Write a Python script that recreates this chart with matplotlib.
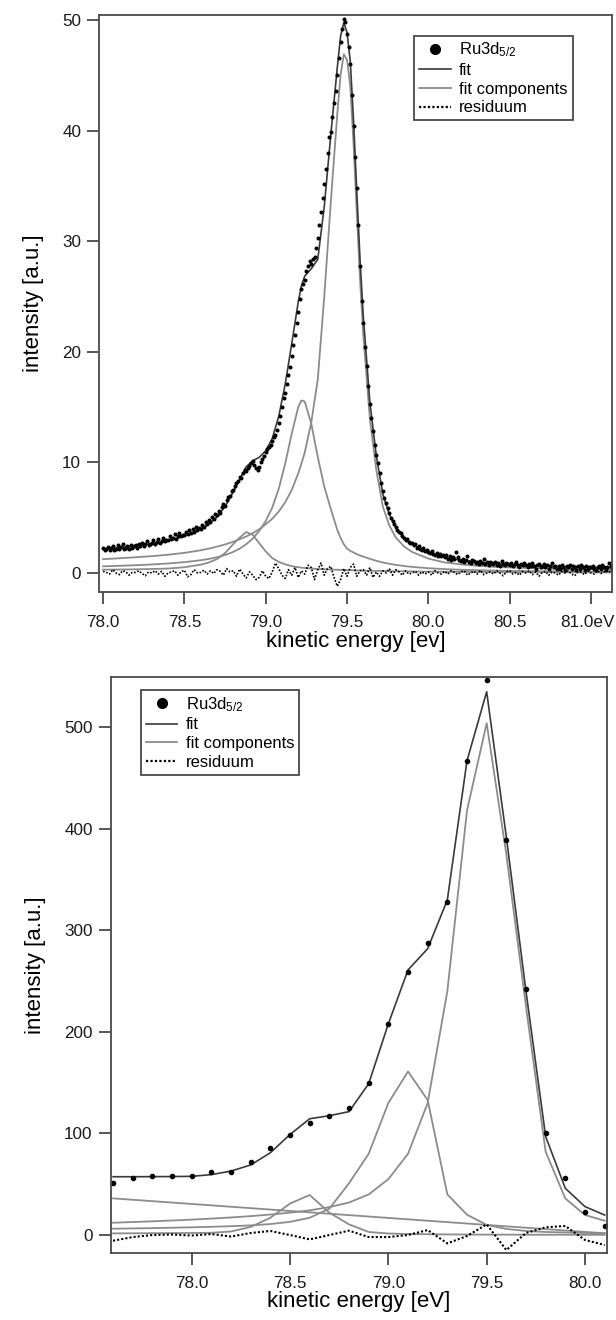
import numpy as np
import matplotlib
matplotlib.use("Agg")
import matplotlib.pyplot as plt
from matplotlib.lines import Line2D
from matplotlib.transforms import ScaledTranslation

plt.rcParams['font.family'] = ['Liberation Sans', 'DejaVu Sans']
plt.rcParams['mathtext.fontset'] = 'custom'
plt.rcParams['mathtext.rm'] = 'Liberation Sans'
plt.rcParams['mathtext.it'] = 'Liberation Sans:italic'

# ---------------- top panel data ----------------
top_start = 78.0
top_step = 0.01
top_data = [
    2.3, 2.1, 2.2, 2.35, 2.05, 2.25, 2.4, 2.1, 2.2, 2.5,
    2.2, 2.35, 2.6, 2.15, 2.3, 2.45, 2.2, 2.55, 2.3, 2.4,
    2.5, 2.3, 2.65, 2.45, 2.7, 2.4, 2.6, 2.85, 2.5, 2.65,
    2.7, 2.95, 2.6, 2.8, 3.05, 2.75, 2.9, 3.2, 2.85, 3.0,
    2.95, 3.3, 3.05, 3.2, 3.5, 3.1, 3.35, 3.6, 3.3, 3.45,
    3.4, 3.7, 3.5, 3.85, 3.6, 4.0, 3.75, 4.2, 3.9, 4.1,
    4.0, 4.35, 4.2, 4.6, 4.45, 4.8, 4.6, 5.1, 4.9, 5.3,
    5.2, 5.6, 5.45, 6.0, 6.2, 6.1, 6.6, 6.9, 7.0, 7.4,
    7.5, 7.9, 8.1, 8.3, 8.7, 8.6, 9.0, 9.3, 9.2, 9.5,
    9.7, 9.9, 10.1, 9.8, 9.5, 9.3, 9.6, 10.0, 10.3, 10.6,
    10.9, 11.2, 11.4, 11.6, 11.9, 12.3, 12.5, 12.9, 13.6, 14.2,
    15.0, 15.8, 16.3, 17.1, 17.9, 18.6, 19.6, 20.6, 21.5, 22.6,
    23.6, 24.8, 25.7, 26.1, 26.5, 27.3, 27.8, 28.2, 27.9, 28.4,
    28.6, 29.4, 30.3, 31.5, 32.6, 33.9, 35.2, 36.5, 38.0, 39.4,
    39.9, 41.2, 42.5, 43.6, 45.0, 46.6, 48.0, 49.2, 50.1, 49.8,
    48.7, 47.6, 46.0, 43.2, 40.4, 37.6, 34.8, 31.5, 27.8, 24.6,
    22.6, 20.4, 18.7, 16.9, 15.3, 14.0, 12.8, 11.6, 10.7, 9.9,
    9.0, 8.1, 7.4, 6.8, 6.3, 5.9, 5.4, 5.0, 4.7, 4.4,
    4.2, 3.9, 3.7, 3.6, 3.3, 3.2, 3.0, 3.1, 2.8, 2.7,
    2.7, 2.5, 2.6, 2.3, 2.4, 2.2, 2.1, 2.3, 2.0, 2.1,
    1.9, 1.8, 2.0, 1.7, 1.6, 1.8, 1.5, 1.7, 1.5, 1.6,
    1.4, 1.6, 1.3, 1.5, 1.2, 1.4, 1.3, 1.9, 1.4, 1.2,
    1.1, 1.3, 1.0, 1.2, 1.5, 1.0, 0.9, 1.2, 1.1, 0.9,
    1.0, 0.8, 1.1, 0.9, 1.3, 0.8, 1.0, 0.7, 1.0, 0.9,
    0.8, 1.0, 0.7, 0.9, 0.6, 1.1, 0.8, 0.7, 0.9, 0.8,
    0.7, 0.9, 0.6, 0.8, 1.0, 0.7, 0.5, 0.8, 0.7, 0.9,
    0.7, 0.5, 0.8, 0.6, 0.9, 0.6, 0.4, 0.7, 0.8, 0.5,
    0.6, 0.8, 0.5, 0.7, 0.4, 0.6, 0.9, 0.5, 0.6, 0.4,
    0.6, 0.4, 0.7, 0.5, 0.3, 0.6, 0.5, 0.7, 0.4, 0.6,
    0.5, 0.3, 0.6, 0.4, 0.7, 0.5, 0.3, 0.6, 0.4, 0.5,
    0.5, 0.6, 0.4, 0.3, 0.5, 0.6, 0.4, 0.7, 0.5, 0.3,
    0.5, 0.9, 0.6, 0.4,
]

top_grid = [78.0, 78.1, 78.2, 78.3, 78.4, 78.5, 78.6, 78.65, 78.7, 78.75,
            78.8, 78.84, 78.88, 78.92, 78.96, 79.0, 79.04, 79.08, 79.12, 79.16,
            79.2, 79.22, 79.24, 79.28, 79.32, 79.36, 79.4, 79.44, 79.46, 79.48,
            79.5, 79.52, 79.54, 79.56, 79.58, 79.6, 79.64, 79.68, 79.72, 79.76,
            79.8, 79.85, 79.9, 80.0, 80.1, 80.2, 80.3, 80.4, 80.5, 80.6,
            80.7, 80.8, 80.9, 81.0, 81.1, 81.14]
top_fit = [2.15, 2.29, 2.45, 2.65, 2.91, 3.32, 3.95, 4.42, 5.05, 6.0,
           7.32, 8.45, 9.6, 10.15, 10.45, 11.05, 12.15, 14.15, 17.08, 20.72,
           24.52, 25.98, 26.85, 27.5, 28.36, 33.13, 39.6, 45.7, 48.5, 49.77,
           48.86, 46.25, 40.89, 34.43, 28.3, 23.19, 15.48, 10.59, 7.13, 5.3,
           4.09, 3.18, 2.59, 1.85, 1.41, 1.17, 0.99, 0.86, 0.77, 0.69,
           0.63, 0.58, 0.55, 0.51, 0.49, 0.47]
top_comp_main = [1.25, 1.33, 1.42, 1.52, 1.65, 1.82, 2.05, 2.2, 2.38, 2.58,
                 2.82, 3.05, 3.3, 3.6, 3.95, 4.4, 4.9, 5.55, 6.4, 7.5,
                 9.0, 9.9, 10.9, 13.6, 17.5, 25.0, 33.5, 41.5, 45.0, 46.9,
                 46.4, 44.0, 38.8, 32.5, 26.5, 21.5, 14.0, 9.3, 6.0, 4.3,
                 3.2, 2.4, 1.9, 1.3, 0.95, 0.78, 0.65, 0.56, 0.5, 0.45,
                 0.41, 0.38, 0.36, 0.34, 0.33, 0.32]
top_comp_mid = [0.6, 0.65, 0.7, 0.77, 0.86, 0.98, 1.15, 1.27, 1.42, 1.62,
                1.9, 2.2, 2.6, 3.1, 3.8, 4.7, 5.9, 7.6, 9.9, 12.6,
                15.0, 15.6, 15.5, 13.5, 10.5, 7.8, 5.8, 3.9, 3.2, 2.6,
                2.2, 2.0, 1.85, 1.7, 1.58, 1.48, 1.28, 1.1, 0.95, 0.83,
                0.73, 0.63, 0.55, 0.43, 0.35, 0.29, 0.25, 0.22, 0.19, 0.17,
                0.15, 0.14, 0.13, 0.12, 0.11, 0.1]
top_comp_small = [0.3, 0.31, 0.33, 0.36, 0.4, 0.52, 0.75, 0.95, 1.25, 1.8,
                  2.6, 3.2, 3.7, 3.45, 2.7, 1.95, 1.35, 1.0, 0.78, 0.62,
                  0.52, 0.48, 0.45, 0.4, 0.36, 0.33, 0.31, 0.29, 0.28, 0.27,
                  0.26, 0.25, 0.24, 0.23, 0.22, 0.21, 0.2, 0.19, 0.18, 0.17,
                  0.16, 0.15, 0.14, 0.12, 0.11, 0.1, 0.09, 0.08, 0.08, 0.07,
                  0.07, 0.06, 0.06, 0.05, 0.05, 0.05]
top_res_step = 0.02
top_residual = [
    0.15, 0.05, -0.1, 0.3, 0.0, -0.15, 0.2, 0.1, -0.2, 0.05,
    0.05, 0.2, -0.05, -0.25, 0.1, 0.0, 0.2, -0.1, 0.15, -0.3,
    0.0, 0.1, 0.2, -0.2, 0.1, 0.25, -0.35, -0.15, 0.3, 0.0,
    0.05, 0.25, -0.1, 0.2, -0.05, 0.3, 0.15, -0.2, 0.4, 0.1,
    0.2, -0.3, 0.35, -0.1, -0.45, 0.1, -0.2, -0.6, -0.4, 0.2,
    -0.3, -0.5, 0.1, 0.9, 0.4, -0.2, -0.5, 0.3, -0.2, 0.5,
    -0.4, 0.2, -0.1, 0.7, 0.5, -0.6, 0.3, 0.9, -0.2, 0.4,
    0.6, -0.4, -1.2, -0.6, 0.4, -0.3, 0.5, 0.8, -0.3, 0.2,
    0.3, -0.2, 0.5, -0.4, 0.1, -0.3, 0.2, 0.0, 0.4, -0.2,
    0.3, 0.1, -0.2, 0.2, -0.1, 0.0, 0.15, -0.2, 0.1, -0.1,
    0.1, -0.2, 0.2, 0.0, -0.1, 0.15, -0.1, 0.2, 0.05, -0.15,
    0.1, 0.2, -0.2, 0.0, 0.15, -0.1, 0.25, -0.15, 0.0, 0.1,
    -0.1, 0.2, 0.0, -0.25, 0.1, 0.2, -0.1, 0.05, -0.2, 0.15,
    0.0, 0.2, -0.15, 0.1, -0.3, 0.05, 0.15, -0.2, 0.1, 0.0,
    -0.2, 0.15, 0.0, 0.2, -0.1, -0.25, 0.1, 0.05, -0.15, 0.2,
    0.0, -0.1, 0.2, -0.05, 0.1, 0.3, 0.05,
]
top_xticks = [78.0, 78.5, 79.0, 79.5, 80.0, 80.5, 81.0]
top_xticklabels = ['78.0', '78.5', '79.0', '79.5', '80.0', '80.5', '81.0eV']
top_yticks = [0, 10, 20, 30, 40, 50]

# ---------------- bottom panel data ----------------
bot_x = [77.6, 77.7, 77.8, 77.9, 78.0, 78.1, 78.2, 78.3, 78.4, 78.5,
         78.6, 78.7, 78.8, 78.9, 79.0, 79.1, 79.2, 79.3, 79.4, 79.5,
         79.6, 79.7, 79.8, 79.9, 80.0, 80.1]
bot_data = [51.5, 55.8, 58.4, 58.4, 58.4, 62.3, 62.3, 72.2, 85.4, 98.5,
            110.6, 117.2, 125.5, 150.0, 207.5, 259.3, 287.3, 328.2, 467.0, 547.0,
            389.0, 242.0, 100.0, 55.8, 23.0, 8.9]
bot_fit = [57.4, 57.4, 57.5, 57.6, 57.8, 59.5, 63.0, 69.0, 81.0, 99.0,
           114.5, 117.5, 121.5, 149.0, 208.0, 261.0, 282.0, 330.0, 467.0, 535.0,
           392.0, 240.0, 97.0, 46.0, 28.0, 19.7]
bot_comp_main = [12.1, 12.8, 13.5, 14.3, 15.2, 16.2, 17.3, 18.6, 20.2, 22.0,
                 24.3, 27.5, 32.0, 40.0, 55.0, 80.0, 130.0, 240.0, 418.0, 504.0,
                 375.0, 225.0, 82.0, 36.0, 19.7, 14.1]
bot_comp_mid = [6.2, 6.5, 6.8, 7.2, 7.6, 8.1, 8.7, 9.5, 10.8, 13.0,
                17.0, 26.0, 51.0, 80.0, 130.0, 161.0, 133.0, 40.0, 20.0, 10.0,
                6.0, 4.0, 3.0, 2.5, 2.0, 1.8]
bot_comp_small = [1.6, 1.7, 1.8, 1.9, 2.0, 2.2, 3.5, 8.0, 17.0, 31.0,
                  39.4, 22.0, 10.5, 3.0, 1.5, 1.0, 0.8, 0.6, 0.5, 0.4,
                  0.4, 0.3, 0.3, 0.3, 0.2, 0.2]
bot_bg_x = [77.6, 80.1]
bot_bg = [36.1, 1.7]
bot_residual = [-5.6, -2.0, 0.0, 0.5, -0.5, 1.0, -1.5, 2.0, 4.0, 0.0,
                -4.3, 0.0, 4.3, -2.0, -2.0, 0.0, 4.9, -8.2, -1.0, 10.5,
                -14.8, 2.0, 7.6, 8.9, -4.9, -9.8]
bot_xticks = [78.0, 78.5, 79.0, 79.5, 80.0]
bot_xticklabels = ['78.0', '78.5', '79.0', '79.5', '80.0']
bot_yticks = [0, 100, 200, 300, 400, 500]

legend_labels = [r'Ru3d$_{\mathrm{5/2}}$', 'fit', 'fit components', 'residuum']

# ---------------- styling ----------------
FIT_C = '#3a3a3a'
COMP_C = '#8c8c8c'
AX_C = '#4a4a4a'
TICK_FS = 12.3
LABEL_FS = 16

W, H = 616, 1320
fig = plt.figure(figsize=(W / 100, H / 100), dpi=100)


def style_axes(ax):
    for s in ax.spines.values():
        s.set_color(AX_C)
        s.set_linewidth(1.3)
    ax.tick_params(direction='out', length=8.5, width=1.3, color=AX_C,
                   labelsize=TICK_FS, labelcolor='#1a1a1a')
    ax.tick_params(axis='x', pad=8)
    ax.tick_params(axis='y', pad=4.5)


def add_legend(ax, anchor):
    handles = [
        Line2D([], [], ls='none', marker='o', ms=7, color='black'),
        Line2D([], [], color=FIT_C, lw=1.2),
        Line2D([], [], color=COMP_C, lw=1.3),
        Line2D([], [], color='black', lw=1.6, ls=(0, (1, 1))),
    ]
    leg = ax.legend(handles, legend_labels, loc='upper left',
                    bbox_to_anchor=anchor, bbox_transform=fig.transFigure,
                    fontsize=12, frameon=True, fancybox=False, framealpha=1,
                    edgecolor=AX_C, borderpad=0.3, labelspacing=0.22,
                    handlelength=1.9, handletextpad=0.5, borderaxespad=0)
    leg.get_frame().set_linewidth(1.3)
    return leg


# ---------------- top axes ----------------
ax1 = fig.add_axes([99.3 / W, 1 - 592 / H, (611.7 - 99.3) / W, (592 - 15) / H])
tx_data = top_start + top_step * np.arange(len(top_data))
tx_res = top_start + top_res_step * np.arange(len(top_residual))
for comp in (top_comp_main, top_comp_mid, top_comp_small):
    ax1.plot(top_grid, comp, color=COMP_C, lw=1.3)
ax1.plot(top_grid, top_fit, color=FIT_C, lw=1.2)
ax1.plot(tx_data, top_data, ls='none', marker='o', ms=1.9, color='black')
ax1.plot(tx_res, top_residual, color='black', lw=1.2, ls=(0, (1, 1)))
ax1.set_xlim(77.977, 81.127)
ax1.set_ylim(-1.72, 50.45)
ax1.set_xticks(top_xticks)
ax1.set_xticklabels(top_xticklabels)
ax1.set_yticks(top_yticks)
style_axes(ax1)
last = ax1.get_xticklabels()[-1]
last.set_transform(last.get_transform() + ScaledTranslation(-4 / 100, 0, fig.dpi_scale_trans))
ax1.set_xlabel('kinetic energy [ev]', fontsize=LABEL_FS, labelpad=0.5)
ax1.set_ylabel('intensity [a.u.]', fontsize=LABEL_FS, labelpad=13)
add_legend(ax1, (414 / W, 1 - 35.7 / H))

# ---------------- bottom axes ----------------
ax2 = fig.add_axes([110.7 / W, 1 - 1252.7 / H, (607 - 110.7) / W, (1252.7 - 676.7) / H])
ax2.plot(bot_bg_x, bot_bg, color=COMP_C, lw=1.3)
for comp in (bot_comp_main, bot_comp_mid, bot_comp_small):
    ax2.plot(bot_x, comp, color=COMP_C, lw=1.3)
ax2.plot(bot_x, bot_fit, color=FIT_C, lw=1.2)
ax2.plot(bot_x, bot_data, ls='none', marker='o', ms=3, color='black')
ax2.plot(bot_x, bot_residual, color='black', lw=1.5, ls=(0, (1, 1)))
ax2.set_xlim(77.588, 80.112)
ax2.set_ylim(-17.4, 549.8)
ax2.set_xticks(bot_xticks)
ax2.set_xticklabels(bot_xticklabels)
ax2.set_yticks(bot_yticks)
style_axes(ax2)
ax2.set_xlabel('kinetic energy [eV]', fontsize=LABEL_FS, labelpad=0.5)
ax2.set_ylabel('intensity [a.u.]', fontsize=LABEL_FS, labelpad=13)
add_legend(ax2, (140.7 / W, 1 - 690 / H))

fig.savefig('out.png', dpi=100)
